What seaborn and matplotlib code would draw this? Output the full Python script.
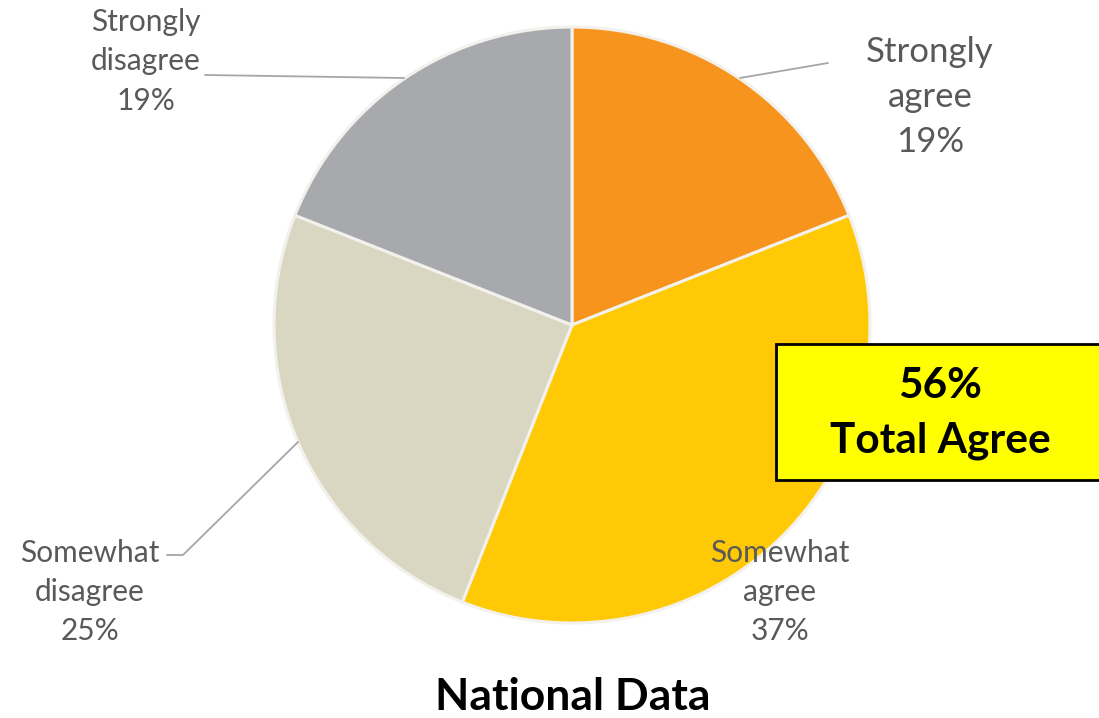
import matplotlib
matplotlib.use("Agg")
import matplotlib.pyplot as plt
from matplotlib.patches import Rectangle
import seaborn as sns

categories = ["Strongly agree", "Somewhat agree", "Somewhat disagree", "Strongly disagree"]
values = [19, 37, 25, 19]
colors = ["#F7941D", "#FFC905", "#D9D6C2", "#A7A9AC"]
total_agree = 56
title = "National Data"

sns.set_theme(style="white")
plt.rcParams['font.family'] = ['Lato', 'DejaVu Sans']

W, H = 1099, 718
fig = plt.figure(figsize=(W / 100, H / 100), dpi=100)
ax = fig.add_axes([0, 0, 1, 1])

def Y(y):
    return H - y

cx, cy, r = 572, 325, 298
ax.pie(values, colors=colors, startangle=90, counterclock=False,
       center=(cx, Y(cy)), radius=r,
       wedgeprops=dict(edgecolor="#F2F1EC", linewidth=2.2))
ax.set_xlim(0, W)
ax.set_ylim(0, H)
ax.set_aspect("equal")
ax.axis("off")

label_color = "#595959"
line_color = "#A6A6A6"

# leader lines
ax.plot([740, 828], [Y(78), Y(63)], color=line_color, lw=1.3)
ax.plot([404, 205], [Y(78), Y(75)], color=line_color, lw=1.3)
ax.plot([298, 183, 167], [Y(442), Y(555), Y(555)], color=line_color, lw=1.3)

def lab(x, y, name, val, size, ls):
    ax.text(x, Y(y), f"{name.split(' ')[0]}\n{name.split(' ')[1]}\n{val}%",
            ha="center", va="center", color=label_color, fontsize=size,
            linespacing=ls)

lab(930, 97, categories[0], values[0], 25, 1.5)
lab(780, 592, categories[1], values[1], 21.5, 1.5)
lab(90, 592, categories[2], values[2], 21.5, 1.5)
lab(146, 61, categories[3], values[3], 21.5, 1.5)

ax.add_patch(Rectangle((776, Y(480)), 340, 136, facecolor="#FFFF00",
                       edgecolor="black", lw=2, zorder=5))
ax.text(940, Y(386), f"{total_agree}%", ha="center", va="center",
        fontsize=30.5, fontweight="bold", color="black", zorder=6)
ax.text(940, Y(441), "Total Agree", ha="center", va="center",
        fontsize=30.5, fontweight="bold", color="black", zorder=6)

ax.text(573, Y(697), title, ha="center", va="center", fontsize=32,
        fontweight="bold", color="black")

fig.savefig("out.png", dpi=100)
